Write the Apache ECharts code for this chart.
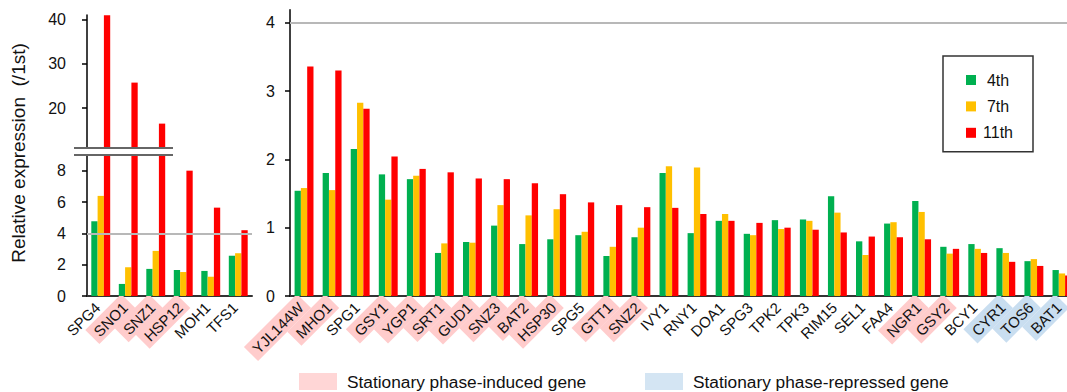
<!DOCTYPE html>
<html>
<head>
<meta charset="utf-8">
<script src="https://cdn.jsdelivr.net/npm/echarts@6/dist/echarts.min.js"></script>
<style>html,body{margin:0;padding:0;background:#fff;}#c{width:1067px;height:392px;}</style>
</head>
<body>
<div id="c"></div>
<script>
// ---------- data ----------
const leftGenes = ['SPG4', 'SNO1', 'SNZ1', 'HSP12', 'MOH1', 'TFS1'];
const left4th = [4.77, 0.77, 1.73, 1.66, 1.60, 2.57];
const left7th = [6.39, 1.83, 2.88, 1.53, 1.23, 2.73];
const left11th = [40.97, 25.75, 16.5, 8.0, 5.64, 4.2];

const rightGenes = ['YJL144W', 'MHO1', 'SPG1', 'GSY1', 'YGP1', 'SRT1', 'GUD1', 'SNZ3', 'BAT2', 'HSP30',
  'SPG5', 'GTT1', 'SNZ2', 'IVY1', 'RNY1', 'DOA1', 'SPG3', 'TPK2', 'TPK3', 'RIM15',
  'SEL1', 'FAA4', 'NGR1', 'GSY2', 'BCY1', 'CYR1', 'TOS6', 'BAT1'];
const right4th = [1.54, 1.80, 2.15, 1.78, 1.71, 0.63, 0.79, 1.03, 0.76, 0.83,
  0.89, 0.585, 0.86, 1.80, 0.92, 1.10, 0.91, 1.11, 1.12, 1.46,
  0.80, 1.06, 1.39, 0.72, 0.76, 0.70, 0.51, 0.38];
const right7th = [1.58, 1.55, 2.83, 1.41, 1.76, 0.77, 0.78, 1.33, 1.18, 1.27,
  0.94, 0.72, 1.00, 1.90, 1.88, 1.20, 0.89, 0.98, 1.10, 1.22,
  0.60, 1.08, 1.23, 0.62, 0.69, 0.63, 0.54, 0.33];
const right11th = [3.36, 3.30, 2.74, 2.04, 1.86, 1.81, 1.72, 1.71, 1.65, 1.49,
  1.37, 1.33, 1.30, 1.29, 1.20, 1.10, 1.07, 1.00, 0.97, 0.93,
  0.87, 0.86, 0.83, 0.69, 0.63, 0.50, 0.44, 0.30];

const inducedGenes = ['SNO1', 'SNZ1', 'HSP12', 'YJL144W', 'MHO1', 'GSY1', 'YGP1', 'SRT1', 'GUD1',
  'SNZ3', 'BAT2', 'HSP30', 'GTT1', 'SNZ2', 'NGR1', 'GSY2'];
const repressedGenes = ['CYR1', 'TOS6', 'BAT1'];

const seriesNames = ['4th', '7th', '11th'];
const leftLowTicks = [0, 2, 4, 6, 8];
const leftHighTicks = [20, 30, 40];
const rightTicks = [0, 1, 2, 3, 4];
const referenceLevel = 4;
const yTitle = 'Relative expression  (/1st)';
const inducedName = 'Stationary phase-induced gene';
const repressedName = 'Stationary phase-repressed gene';

// ---------- styles ----------
const COLORS = ['#00B050', '#FFC000', '#FF0000'];
const PINK = '#FFCCCC';
const BLUE = '#C9DEF0';
const FONT = 'Liberation Sans, Arial, sans-serif';

const chart = echarts.init(document.getElementById('c'), null, {renderer: 'svg'});

function catLabel(v) {
  if (inducedGenes.indexOf(v) >= 0) return '{p|' + v + '}';
  if (repressedGenes.indexOf(v) >= 0) return '{b|' + v + '}';
  return '{n|' + v + '}';
}
const labelRich = {
  p: {backgroundColor: PINK, padding: [3, 5, 2, 5], fontSize: 15, fontFamily: FONT, color: '#111'},
  b: {backgroundColor: BLUE, padding: [3, 5, 2, 5], fontSize: 15, fontFamily: FONT, color: '#111'},
  n: {padding: [3, 5, 2, 5], fontSize: 15, fontFamily: FONT, color: '#111'}
};

function xCat(gridIndex, data, show) {
  return {
    type: 'category', gridIndex: gridIndex, data: data, show: show !== false,
    axisLine: {show: true, lineStyle: {color: '#333', width: 2}},
    axisTick: {show: false},
    axisLabel: {interval: 0, rotate: 45, margin: 5, formatter: catLabel, rich: labelRich}
  };
}
function yVal(gridIndex, min, max, ticks, margin) {
  return {
    type: 'value', gridIndex: gridIndex, min: min, max: max,
    splitLine: {show: false},
    axisLine: {show: true, lineStyle: {color: '#000', width: 1.5}},
    axisTick: {show: true, inside: false, length: 5, customValues: ticks, lineStyle: {color: '#000', width: 1.5}},
    axisLabel: {customValues: ticks, margin: margin, fontSize: 16, fontFamily: FONT, color: '#111'}
  };
}

const refLine = {
  silent: true, symbol: 'none', label: {show: false},
  lineStyle: {color: '#B8B8B8', width: 2, type: 'solid'},
  data: [{yAxis: referenceLevel}]
};

const series = [];
const leftSets = [left4th, left7th, left11th];
const rightSets = [right4th, right7th, right11th];
for (let i = 0; i < 3; i++) {
  series.push({
    name: seriesNames[i], type: 'bar', xAxisIndex: 0, yAxisIndex: 0,
    data: leftSets[i], barWidth: 6.3, barGap: '0%', clip: true,
    itemStyle: {color: COLORS[i]},
    markLine: i === 0 ? refLine : undefined
  });
  series.push({
    name: seriesNames[i], type: 'bar', xAxisIndex: 1, yAxisIndex: 1,
    data: leftSets[i], barWidth: 6.3, barGap: '0%', clip: true,
    itemStyle: {color: COLORS[i]}
  });
  series.push({
    name: seriesNames[i], type: 'bar', xAxisIndex: 2, yAxisIndex: 2,
    data: rightSets[i], barWidth: 6.3, barGap: '0%', clip: true,
    itemStyle: {color: COLORS[i]},
    markLine: i === 0 ? refLine : undefined
  });
}
series.push({name: inducedName, type: 'scatter', xAxisIndex: 2, yAxisIndex: 2, data: [], itemStyle: {color: PINK}});
series.push({name: repressedName, type: 'scatter', xAxisIndex: 2, yAxisIndex: 2, data: [], itemStyle: {color: BLUE}});

const option = {
  animation: false,
  backgroundColor: '#fff',
  textStyle: {fontFamily: FONT},
  grid: [
    {left: 87, width: 165, top: 155, bottom: 96, containLabel: false, outerBoundsMode: 'none'},
    {left: 87, width: 165, top: 15, height: 133, containLabel: false, outerBoundsMode: 'none'},
    {left: 290, right: -9, top: 9.7, bottom: 96, containLabel: false, outerBoundsMode: 'none'}
  ],
  xAxis: [xCat(0, leftGenes), xCat(1, leftGenes, false), xCat(2, rightGenes)],
  yAxis: [
    yVal(0, 0, 9, leftLowTicks, 21),
    yVal(1, 11, 41, leftHighTicks, 21),
    yVal(2, 0, 4.19, rightTicks, 15)
  ],
  legend: [
    {
      data: seriesNames.map(n => ({name: n, icon: 'rect'})),
      orient: 'vertical', left: 943, top: 56,
      padding: [16, 18, 11, 23], itemGap: 10.4, itemWidth: 10, itemHeight: 10,
      borderColor: '#333', borderWidth: 1.5, selectedMode: false,
      formatter: '{c|{name}}',
      textStyle: {rich: {c: {width: 34, align: 'center', fontSize: 16, lineHeight: 18, fontFamily: FONT, color: '#111'}}}
    },
    {
      data: [{name: inducedName, icon: 'rect'}], left: 299, top: 373, padding: 0,
      itemWidth: 38, itemHeight: 17, selectedMode: false,
      textStyle: {fontSize: 17.3, fontFamily: FONT, color: '#111', padding: [0, 0, 0, 5]}
    },
    {
      data: [{name: repressedName, icon: 'rect'}], left: 645, top: 373, padding: 0,
      itemWidth: 38, itemHeight: 17, selectedMode: false,
      textStyle: {fontSize: 17.3, fontFamily: FONT, color: '#111', padding: [0, 0, 0, 5]}
    }
  ],
  graphic: [
    {type: 'line', shape: {x1: 74, y1: 148, x2: 173, y2: 148}, style: {stroke: '#666', lineWidth: 2}, z: 100},
    {type: 'line', shape: {x1: 74, y1: 155, x2: 173, y2: 155}, style: {stroke: '#666', lineWidth: 2}, z: 100},
    {type: 'text', x: 18, y: 153, rotation: Math.PI / 2,
      style: {text: yTitle, fontSize: 19, fontFamily: FONT, fill: '#111', textAlign: 'center', textVerticalAlign: 'middle'}}
  ],
  series: series
};
chart.setOption(option);
</script>
</body>
</html>
